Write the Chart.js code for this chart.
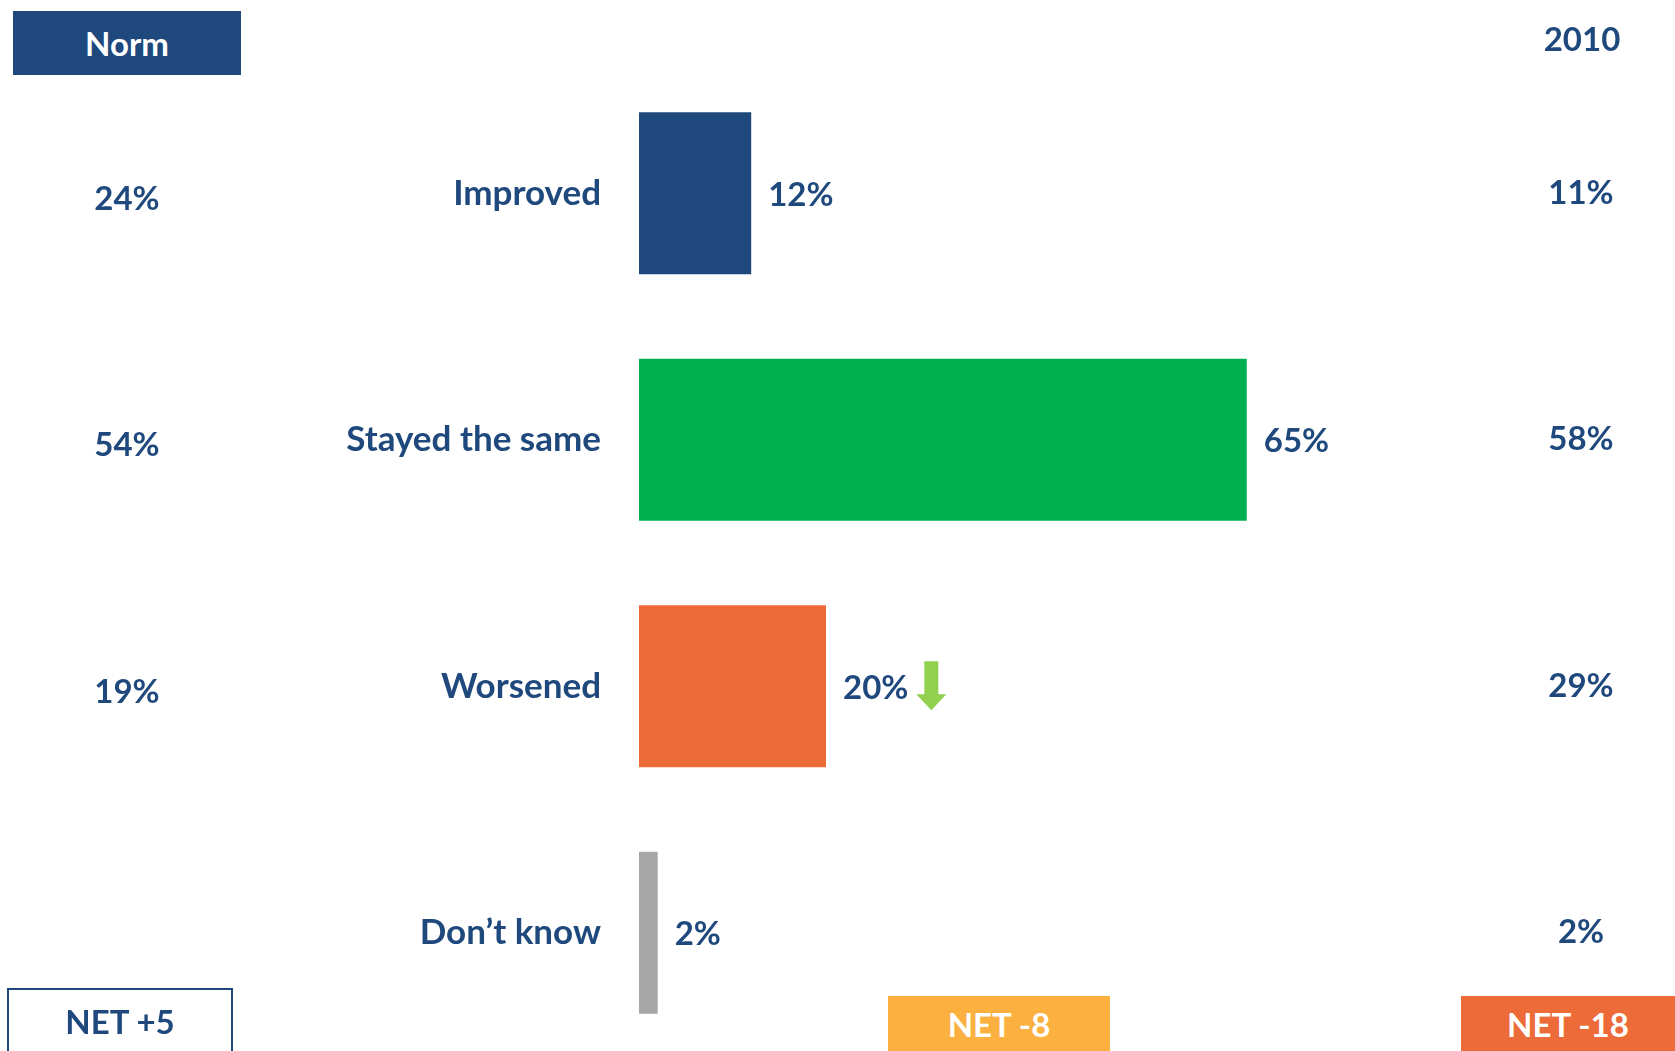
<!DOCTYPE html>
<html>
<head>
<meta charset="utf-8">
<script src="https://cdn.jsdelivr.net/npm/chart.js@4.4.1/dist/chart.umd.min.js"></script>
<style>
    html, body { margin: 0; padding: 0; background: #fff; overflow: hidden; }
    body { width: 1675px; height: 1051px; position: relative; font-family: 'Lato', 'Open Sans', sans-serif; font-weight: 700; }
    #bc { position: absolute; left: 0; top: 0; }
    .tag { position: absolute; box-sizing: border-box; display: flex; align-items: center; justify-content: center; font-size: 33px; }
    #norm   { left: 13px; top: 11px; width: 228px; height: 64px; background: #1F497D; color: #fff; }
    #year   { left: 1522px; top: 14px; width: 120px; height: 48px; color: #1F497D; }
    #netN   { left: 7px; top: 988px; width: 226px; height: 70px; border: 2px solid #1F497D; color: #1F497D; padding-bottom: 4px; }
    #netC   { left: 888px; top: 996px; width: 222px; height: 60px; background: #FBB040; color: #fff; padding-bottom: 5px; }
    #net10  { left: 1461px; top: 996px; width: 214px; height: 60px; background: #ED6A39; color: #fff; padding-bottom: 5px; }
</style>
</head>
<body>
<canvas id="bc" width="1675" height="1058"></canvas>
<div class="tag" id="norm">Norm</div>
<div class="tag" id="year">2010</div>
<div class="tag" id="netN"></div>
<div class="tag" id="netC"></div>
<div class="tag" id="net10"></div>

<script>
/* ── Data ───────────────────────────────────────────────────────────── */
const categories = ['Improved', 'Stayed the same', 'Worsened', 'Don’t know'];
const current    = [12, 65, 20, 2];
const normVals   = [24, 54, 19, null];
const vals2010   = [11, 58, 29, 2];
const barColors  = ['#1F497D', '#00B050', '#ED6A39', '#A6A6A6'];
const dropIdx    = 2;   // Worsened: significant decrease marker

const NAVY = '#1F497D';
const FAMILY = "'Lato', 'Open Sans', sans-serif";
const FONT = 'bold 33px ' + FAMILY;

/* ── NET = improved − worsened ─────────────────────────────────────── */
const net = a => a[0] - a[2];
const fmtNet = n => 'NET ' + (n > 0 ? '+' + n : n);
document.getElementById('netN').textContent  = fmtNet(net(normVals));
document.getElementById('netC').textContent  = fmtNet(net(current));
document.getElementById('net10').textContent = fmtNet(net(vals2010));

/* ── Labels beside bars + side columns ─────────────────────────────── */
const sideLabels = {
    id: 'sideLabels',
    afterDatasetsDraw(chart) {
        const { ctx } = chart;
        const meta = chart.getDatasetMeta(0);
        ctx.save();
        ctx.font = FONT;
        ctx.fillStyle = NAVY;
        ctx.textBaseline = 'middle';
        meta.data.forEach((bar, i) => {
            const y = bar.y;
            const txt = current[i] + '%';
            ctx.textAlign = 'left';
            const tx = bar.x + 17;
            ctx.fillText(txt, tx, y + 2);

            if (i === dropIdx) {
                const ax = tx + ctx.measureText(txt).width + 23;
                ctx.fillStyle = '#92D050';
                ctx.beginPath();
                ctx.moveTo(ax - 7, y - 25);
                ctx.lineTo(ax + 7, y - 25);
                ctx.lineTo(ax + 7, y + 8);
                ctx.lineTo(ax + 15, y + 8);
                ctx.lineTo(ax, y + 24);
                ctx.lineTo(ax - 15, y + 8);
                ctx.lineTo(ax - 7, y + 8);
                ctx.closePath();
                ctx.fill();
                ctx.fillStyle = NAVY;
            }

            ctx.textAlign = 'center';
            if (normVals[i] != null) ctx.fillText(normVals[i] + '%', 127, y + 6);
            ctx.fillText(vals2010[i] + '%', 1581, y);
        });
        ctx.restore();
    },
};

new Chart(document.getElementById('bc'), {
    type: 'bar',
    data: {
        labels: categories,
        datasets: [{
            data: current,
            backgroundColor: barColors,
            borderWidth: 0,
            categoryPercentage: 1,
            barPercentage: 0.657,
        }],
    },
    options: {
        indexAxis: 'y',
        responsive: false,
        animation: false,
        layout: { padding: { left: 0, right: 101, top: 70, bottom: 2 } },
        plugins: { legend: { display: false }, tooltip: { enabled: false } },
        scales: {
            x: { min: 0, max: 100, display: false },
            y: {
                grid: { display: false, drawTicks: false },
                border: { display: false },
                ticks: { color: NAVY, font: { family: FAMILY, size: 35, weight: 'bold' }, padding: 38 },
                afterFit(s) { s.width = 639; s.paddingTop = 0; s.paddingBottom = 0; },
            },
        },
    },
    plugins: [sideLabels],
});
</script>
</body>
</html>
